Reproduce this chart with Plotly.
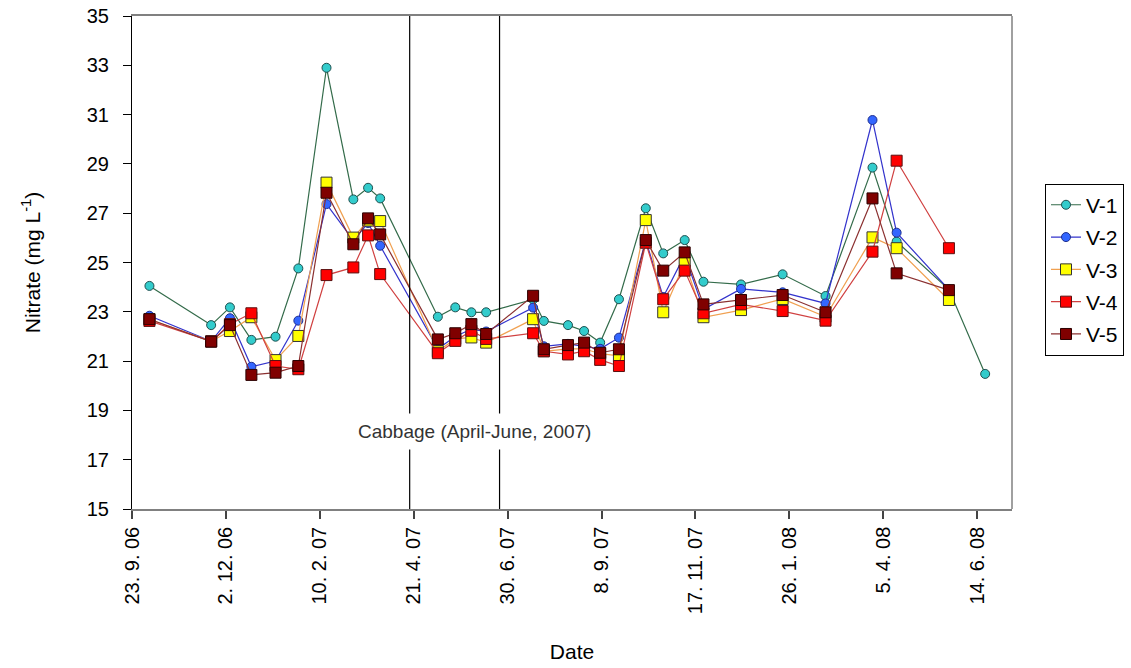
import plotly.graph_objects as go

# ---------------- data ----------------
dates = [
    "2006-10-06", "2006-11-21", "2006-12-05", "2006-12-21", "2007-01-08",
    "2007-01-25", "2007-02-15", "2007-03-07", "2007-03-18", "2007-03-27",
    "2007-05-09", "2007-05-22", "2007-06-03", "2007-06-14", "2007-07-19",
    "2007-07-27", "2007-08-14", "2007-08-26", "2007-09-07", "2007-09-21",
    "2007-10-11", "2007-10-24", "2007-11-09", "2007-11-23", "2007-12-21",
    "2008-01-21", "2008-02-22", "2008-03-28", "2008-04-15", "2008-05-24",
]
v1_extra_date = ["2008-06-20"]

v1 = [24.05, 22.46, 23.18, 21.86, 21.99, 24.76, 32.90, 27.56, 28.03, 27.60,
      22.80, 23.18, 22.98, 22.98, 23.50, 22.63, 22.46, 22.22, 21.75, 23.51,
      27.20, 25.37, 25.91, 24.22, 24.11, 24.52, 23.64, 28.85, 25.85, 23.90]
v1_extra = [20.48]
v2 = [22.84, 21.80, 22.74, 20.77, 21.00, 22.64, 27.37, 25.90, 26.60, 25.68,
      21.50, 22.00, 22.30, 22.20, 23.17, 21.60, 21.70, 21.60, 21.50, 21.95,
      25.90, 23.60, 25.30, 23.10, 23.93, 23.79, 23.34, 30.78, 26.21, 23.90]
v3 = [22.70, 21.80, 22.22, 22.78, 21.04, 22.02, 28.24, 26.01, 26.70, 26.68,
      21.40, 21.90, 21.96, 21.75, 22.70, 21.40, 21.50, 21.50, 21.30, 21.21,
      26.72, 22.98, 25.00, 22.78, 23.07, 23.52, 22.80, 26.02, 25.58, 23.48]
v4 = [22.63, 21.80, 22.50, 22.94, 20.80, 20.67, 24.49, 24.80, 26.10, 24.53,
      21.32, 21.82, 22.23, 21.90, 22.13, 21.40, 21.27, 21.40, 21.05, 20.80,
      25.80, 23.51, 24.67, 22.94, 23.30, 23.03, 22.64, 25.44, 29.13, 25.58]
v5 = [22.70, 21.79, 22.46, 20.44, 20.53, 20.80, 27.83, 25.74, 26.79, 26.14,
      21.88, 22.13, 22.50, 22.10, 23.65, 21.48, 21.65, 21.75, 21.34, 21.48,
      25.91, 24.67, 25.41, 23.30, 23.48, 23.68, 22.98, 27.60, 24.56, 23.88]

series_names = ["V-1", "V-2", "V-3", "V-4", "V-5"]

tick_dates = ["2006-09-23", "2006-12-02", "2007-02-10", "2007-04-21", "2007-06-30",
              "2007-09-08", "2007-11-17", "2008-01-26", "2008-04-05", "2008-06-14"]
tick_labels = ["23. 9. 06", "2. 12. 06", "10. 2. 07", "21. 4. 07", "30. 6. 07",
               "8. 9. 07", "17. 11. 07", "26. 1. 08", "5. 4. 08", "14. 6. 08"]
y_ticks = [15, 17, 19, 21, 23, 25, 27, 29, 31, 33, 35]

cabbage_start = "2007-04-18"
cabbage_end = "2007-06-24"
cabbage_label = "Cabbage (April-June, 2007)"
cabbage_label_pos = ("2007-06-05", 18.16)
x_range = ["2006-09-23", "2008-07-10"]

# ---------------- styles ----------------
styles = {
    "V-1": dict(line="#336B4A", fill="#33CCCC", edge="#1F4F4F", symbol="circle", size=9),
    "V-2": dict(line="#3333CC", fill="#3366FF", edge="#1F2F8F", symbol="circle", size=9),
    "V-3": dict(line="#F0A050", fill="#FFFF00", edge="#333333", symbol="square", size=11),
    "V-4": dict(line="#D04040", fill="#FF0000", edge="#5A1010", symbol="square", size=11),
    "V-5": dict(line="#8B3030", fill="#800000", edge="#2A0000", symbol="square", size=11),
}

FONT = "Liberation Sans, Arial, sans-serif"

fig = go.Figure()
all_x = {
    "V-1": dates + v1_extra_date,
    "V-2": dates, "V-3": dates, "V-4": dates, "V-5": dates,
}
all_y = {"V-1": v1 + v1_extra, "V-2": v2, "V-3": v3, "V-4": v4, "V-5": v5}

for name in series_names:
    s = styles[name]
    fig.add_trace(go.Scatter(
        x=all_x[name], y=all_y[name], name=name, mode="lines+markers",
        legendgroup=name,
        line=dict(color=s["line"], width=1.2),
        marker=dict(symbol=s["symbol"], size=s["size"], color=s["fill"],
                    line=dict(color=s["edge"], width=1)),
    ))

for d in (cabbage_start, cabbage_end):
    fig.add_shape(type="line", xref="x", yref="y", x0=d, x1=d, y0=15, y1=35,
                  line=dict(color="black", width=1.2), layer="above")

# right border of plot frame
fig.add_shape(type="line", xref="paper", yref="paper", x0=1, x1=1, y0=0, y1=1,
              line=dict(color="#808080", width=1.5), layer="above")

fig.add_annotation(
    x=cabbage_label_pos[0], y=cabbage_label_pos[1], xref="x", yref="y",
    text=cabbage_label, showarrow=False,
    font=dict(family=FONT, size=19, color="#333333"),
    bgcolor="white", borderpad=7,
)

fig.update_layout(
    width=1131, height=668,
    margin=dict(l=132, r=119, t=16, b=159, autoexpand=False),
    paper_bgcolor="white", plot_bgcolor="white",
    font=dict(family=FONT, size=20, color="black"),
    showlegend=True,
    legend=dict(
        x=1.0375, y=0.66, xanchor="left", yanchor="top",
        bordercolor="black", borderwidth=1, bgcolor="white",
        font=dict(family=FONT, size=21, color="black"),
        tracegroupgap=2, itemwidth=30,
    ),
    xaxis=dict(
        type="date", range=x_range, automargin=False,
        tickvals=tick_dates, ticktext=tick_labels, tickangle=-90,
        ticks="outside", ticklen=8, tickcolor="#444444", tickwidth=1.5,
        showline=True, linecolor="#808080", linewidth=1.5, mirror=True,
        showgrid=False, zeroline=False,
        tickfont=dict(family=FONT, size=20, color="black"),
        title=dict(text="Date", font=dict(family=FONT, size=21), standoff=31),
    ),
    yaxis=dict(
        range=[15, 35], tickvals=y_ticks, ticktext=[str(v) for v in y_ticks],
        automargin=False,
        ticks="outside", ticklen=8, tickcolor="black", tickwidth=1.2,
        showline=True, linecolor="black", linewidth=1.2,
        showgrid=False, zeroline=False, ticklabelstandoff=10,
        tickfont=dict(family=FONT, size=20, color="black"),
        title=dict(text="Nitrate (mg L<sup>-1</sup>)", font=dict(family=FONT, size=21),
                   standoff=40),
    ),
)

fig.write_html("out.html")
